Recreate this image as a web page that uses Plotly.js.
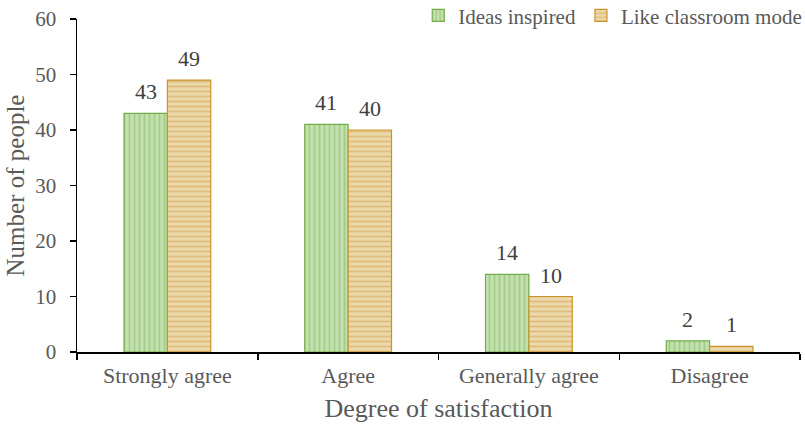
<!DOCTYPE html>
<html>
<head>
<meta charset="utf-8">
<script src="https://cdn.plot.ly/plotly-3.0.1.min.js"></script>
<style>html,body{margin:0;padding:0;background:#fff;}#chart{width:805px;height:425px;}</style>
</head>
<body>
<div id="chart"></div>
<script>
const categories = ["Strongly agree", "Agree", "Generally agree", "Disagree"];
const ideasInspired = [43, 41, 14, 2];
const likeClassroom = [49, 40, 10, 1];
const seriesNames = ["Ideas inspired", "Like classroom mode"];

const font = "Liberation Serif, Times New Roman, serif";
const labelFont = {family: font, size: 22, color: "#404040"};
const traces = [
  {
    type: "bar", name: seriesNames[0], x: categories, y: ideasInspired,
    marker: {color: "#b4d59a", line: {color: "#70ad47", width: 1.2},
      pattern: {shape: "|", bgcolor: "#c5e0b0", fgcolor: "#7fb957", size: 5, solidity: 0.35, fillmode: "overlay"}}
  },
  {
    type: "bar", name: seriesNames[1], x: categories, y: likeClassroom,
    marker: {color: "#ead6a6", line: {color: "#c9952b", width: 1.2},
      pattern: {shape: "-", bgcolor: "#ecd9ab", fgcolor: "#d2a04a", size: 5, solidity: 0.35, fillmode: "overlay"}}
  }
];

// value labels above bars (offset half a bar width left/right of the category centre)
const plotW = 805 - 77 - 5;
const bargap = 0.52;
const barW = plotW / categories.length * (1 - bargap) / 2;
const annotations = [];
[ideasInspired, likeClassroom].forEach((vals, si) => {
  vals.forEach((v, i) => {
    annotations.push({
      x: categories[i], y: v, xref: "x", yref: "y", text: String(v),
      showarrow: false, yanchor: "bottom", xanchor: "center",
      xshift: (si === 0 ? -1 : 1) * barW / 2, yshift: 7, font: labelFont
    });
  });
});

const layout = {
  width: 805, height: 425,
  margin: {l: 77, r: 5, t: 19, b: 73, autoexpand: false},
  paper_bgcolor: "#fff", plot_bgcolor: "#fff",
  font: {family: font, color: "#595959", size: 20},
  barmode: "group", bargap: bargap, bargroupgap: 0,
  showlegend: true,
  annotations: annotations,
  legend: {orientation: "h", x: 1.01, xanchor: "right", y: 1.01, yanchor: "middle",
    font: {family: font, size: 21, color: "#595959"}, bgcolor: "rgba(0,0,0,0)", traceorder: "normal",
    itemwidth: 30},
  xaxis: {
    type: "category", showline: true, linecolor: "#000", linewidth: 1.5,
    ticks: "outside", tickson: "boundaries", ticklen: 6, tickcolor: "#000", tickwidth: 1.5,
    tickfont: {family: font, size: 22, color: "#595959"}, ticklabelstandoff: 3,
    title: {text: "Degree of satisfaction", font: {family: font, size: 26, color: "#595959"}, standoff: 12},
    showgrid: false, zeroline: false
  },
  yaxis: {
    range: [0, 60], dtick: 10, showline: true, linecolor: "#000", linewidth: 1.5,
    ticks: "outside", ticklen: 6, tickcolor: "#000", tickwidth: 1.5,
    tickfont: {family: font, size: 21, color: "#595959"}, ticklabelstandoff: 9,
    title: {text: "Number of people", font: {family: font, size: 25, color: "#595959"}, standoff: 3},
    showgrid: false, zeroline: false
  }
};

Plotly.newPlot("chart", traces, layout, {displayModeBar: false, staticPlot: true});
</script>
</body>
</html>
